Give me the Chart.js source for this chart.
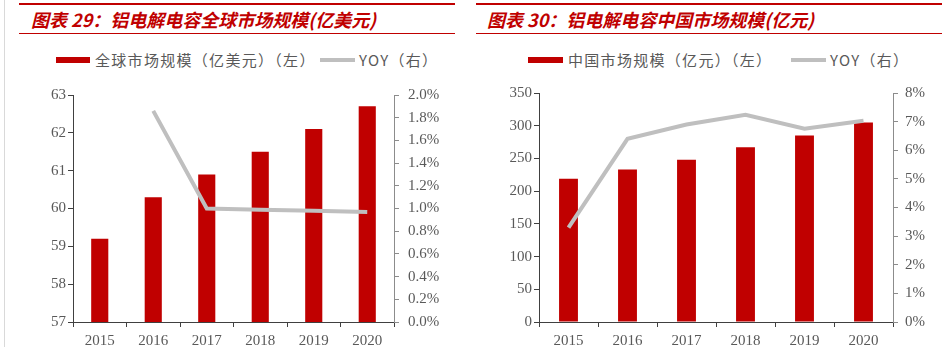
<!DOCTYPE html>
<html lang="zh">
<head>
<meta charset="UTF-8">
<title>铝电解电容市场规模</title>
<script src="https://cdn.jsdelivr.net/npm/chart.js@4.4.1/dist/chart.umd.min.js"></script>
<style>
  html, body { margin: 0; padding: 0; background: #fff; }
  body { width: 942px; height: 347px; position: relative; overflow: hidden; }
  .edge { position: absolute; left: 4px; top: 0; width: 1px; height: 347px; background: #d9d9d9; }
  .rule-top { position: absolute; height: 2px; top: 3px; background: #c00000; }
  .rule-bot { position: absolute; height: 1px; top: 33px; background: #c00000; }
  .title { position: absolute; top: 8px; font-family: "Noto Sans CJK SC", sans-serif; font-size: 18px;
           font-weight: bold; font-style: italic; color: #c00000; white-space: nowrap; line-height: 22px; }
  .lg-box { position: absolute; }
  .lg-text { position: absolute; top: 51px; font-family: "Noto Sans CJK SC", sans-serif; font-size: 15px;
             color: #595959; white-space: nowrap; line-height: 18px; letter-spacing: 1.3px; }
  .box { position: absolute; }
</style>
</head>
<body>
<div class="edge"></div>

<div class="rule-top" style="left:19px;width:436px"></div>
<div class="rule-bot" style="left:19px;width:436px"></div>
<div class="title" style="left:31px">图表 29：铝电解电容全球市场规模(亿美元)</div>

<div class="rule-top" style="left:476px;width:466px"></div>
<div class="rule-bot" style="left:476px;width:466px"></div>
<div class="title" style="left:487px">图表 30：铝电解电容中国市场规模(亿元)</div>

<div class="lg-box" style="left:56px;top:57px;width:34px;height:6px;background:#c00000"></div>
<div class="lg-text" style="left:95px">全球市场规模（亿美元）（左）</div>
<div class="lg-box" style="left:320px;top:58px;width:35px;height:4px;background:#bfbfbf"></div>
<div class="lg-text" style="left:359px">YOY（右）</div>

<div class="lg-box" style="left:528px;top:57px;width:35px;height:6px;background:#c00000"></div>
<div class="lg-text" style="left:568px">中国市场规模（亿元）（左）</div>
<div class="lg-box" style="left:791px;top:58px;width:35px;height:4px;background:#bfbfbf"></div>
<div class="lg-text" style="left:830px">YOY（右）</div>

<div class="box" style="left:20px;top:77px;width:440px;height:270px"><canvas id="globalChart"></canvas></div>
<div class="box" style="left:476px;top:77px;width:466px;height:270px"><canvas id="chinaChart"></canvas></div>

<script>
// years shared by both charts
const years = ['2015', '2016', '2017', '2018', '2019', '2020'];

// 图表29: global market (亿美元) and YOY (%)
const globalSize = [59.2, 60.3, 60.9, 61.5, 62.1, 62.7];
const globalYoy = [null, 1.86, 1.0, 0.99, 0.98, 0.97];

// 图表30: China market (亿元) and YOY (%)
const chinaSize = [219, 233, 248, 267, 285, 305];
const chinaYoy = [3.3, 6.4, 6.9, 7.24, 6.75, 7.03];

const RED = '#c00000';
const GREY = '#bfbfbf';
const tickFont = { family: '"Liberation Serif", "Times New Roman", serif', size: 15 };
const tickColor = '#595959';

function axisGrid(color) {
    return { display: true, drawOnChartArea: false, drawTicks: true, tickLength: 5, color: color };
}

function makeChart(id, bars, yoy, opt) {
    const ctx = document.getElementById(id).getContext('2d');
    return new Chart(ctx, {
        type: 'bar',
        data: {
            labels: years,
            datasets: [{
                type: 'line',
                label: 'YOY',
                data: yoy,
                yAxisID: 'y1',
                borderColor: GREY,
                backgroundColor: GREY,
                borderWidth: 4,
                pointRadius: 0,
                tension: 0,
                spanGaps: true,
                order: 0
            }, {
                label: opt.barLabel,
                data: bars,
                yAxisID: 'y',
                backgroundColor: RED,
                categoryPercentage: 1,
                barPercentage: 0.32,
                order: 1
            }]
        },
        options: {
            responsive: true,
            maintainAspectRatio: false,
            animation: false,
            layout: { padding: 0 },
            plugins: { legend: { display: false }, tooltip: { enabled: false } },
            scales: {
                x: {
                    grid: Object.assign(axisGrid('#404040'), { offset: true }),
                    border: { color: '#404040', width: 1 },
                    ticks: { font: tickFont, color: tickColor, padding: 5, maxRotation: 0 },
                    afterFit: s => { s.height = 25; }
                },
                y: {
                    position: 'left',
                    min: opt.yMin, max: opt.yMax,
                    grid: axisGrid('#404040'),
                    border: { color: '#404040', width: 1 },
                    ticks: { stepSize: opt.yStep, font: tickFont, color: tickColor, padding: opt.yPad },
                    afterFit: s => { s.width = opt.yWidth; }
                },
                y1: {
                    position: 'right',
                    min: 0, max: opt.y1Max,
                    grid: axisGrid('#8c8c8c'),
                    border: { color: '#8c8c8c', width: 1 },
                    ticks: {
                        stepSize: opt.y1Step, font: tickFont, color: tickColor, padding: opt.y1Pad,
                        callback: v => v.toFixed(opt.y1Dec) + '%'
                    },
                    afterFit: s => { s.width = opt.y1Width; }
                }
            }
        }
    });
}

makeChart('globalChart', globalSize, globalYoy, {
    barLabel: '全球市场规模（亿美元）（左）',
    yMin: 57, yMax: 63, yStep: 1, yPad: 2, yWidth: 53,
    y1Max: 2, y1Step: 0.2, y1Dec: 1, y1Pad: 9, y1Width: 66
});

makeChart('chinaChart', chinaSize, chinaYoy, {
    barLabel: '中国市场规模（亿元）（左）',
    yMin: 0, yMax: 350, yStep: 50, yPad: 2, yWidth: 63,
    y1Max: 8, y1Step: 1, y1Dec: 0, y1Pad: 7, y1Width: 49
});
</script>
</body>
</html>
